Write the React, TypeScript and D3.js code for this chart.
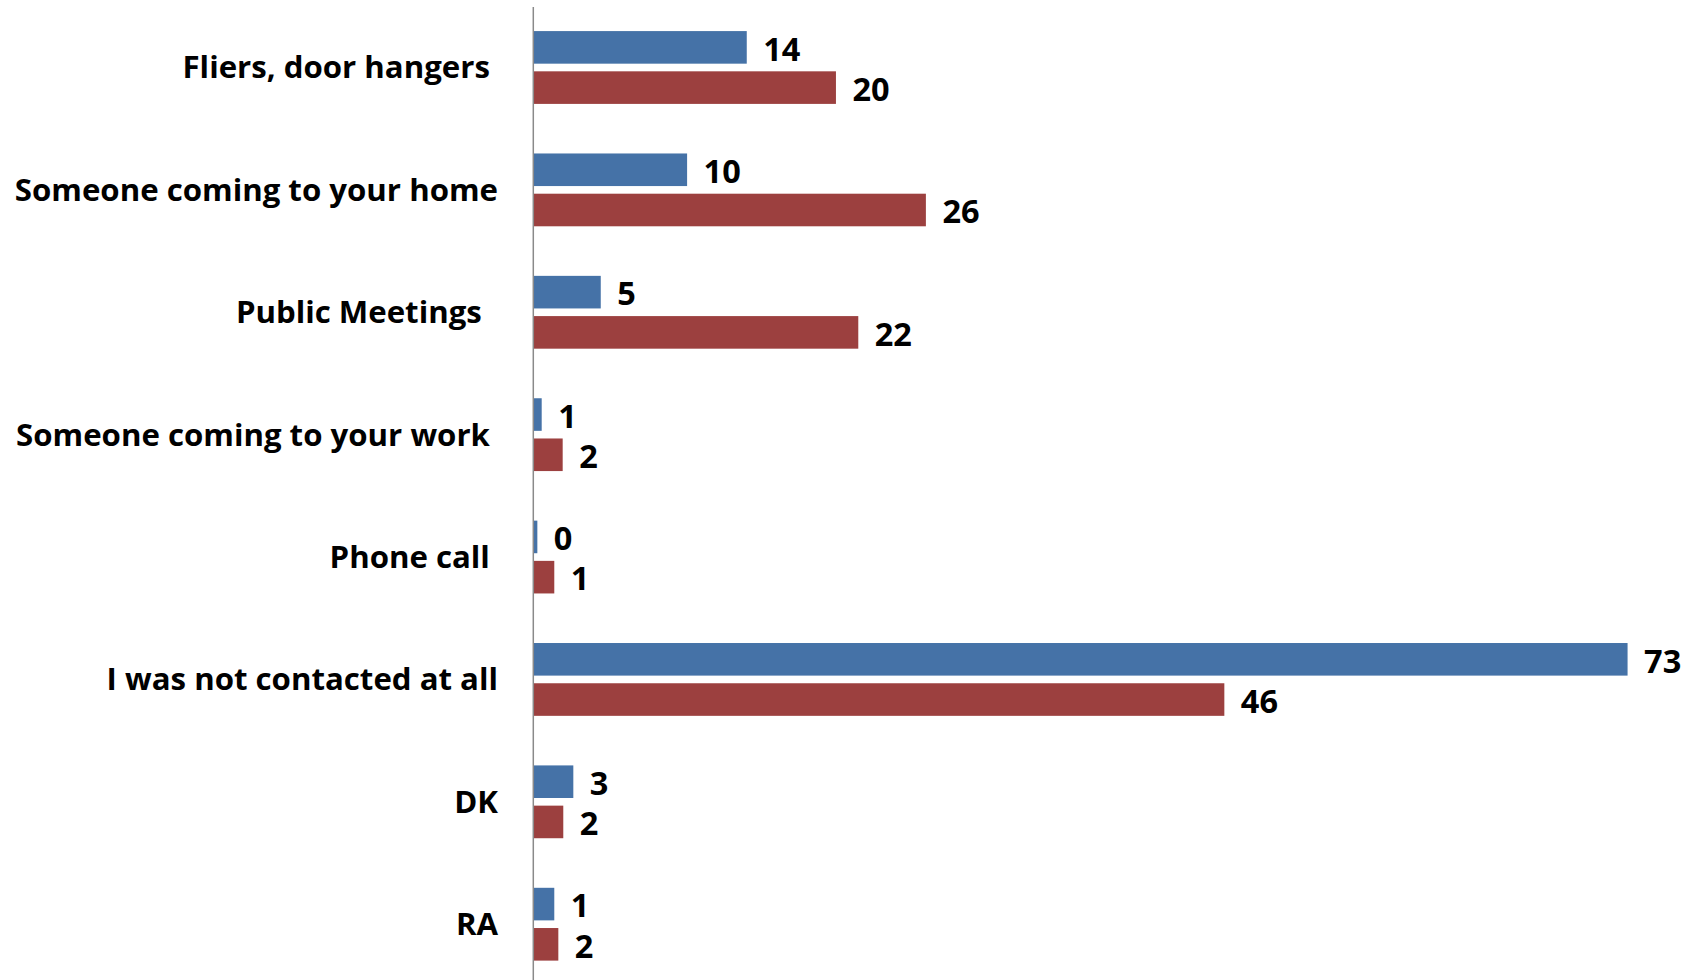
import React from "react";
import * as d3 from "d3";

const categories = [
  "Fliers, door hangers ",
  "Someone coming to your home",
  "Public Meetings  ",
  "Someone coming to your work ",
  "Phone call ",
  "I was not contacted at all",
  "DK",
  "RA",
];

const seriesNames = ["Series A", "Series B"];
const seriesA = [14.24, 10.26, 4.5, 0.56, 0.27, 73.0, 2.67, 1.4];
const seriesB = [20.19, 26.19, 21.68, 1.96, 1.4, 46.1, 2.0, 1.67];
const seriesColors = ["#4572A7", "#9C403F"];

const W = 1694;
const H = 980;

export default function App() {
  const x = d3.scaleLinear().domain([0, 80]).range([533.3, 533.3 + 80 * 14.99]);
  const y0 = d3
    .scaleBand<string>()
    .domain(categories)
    .range([6.3, 985.4])
    .paddingInner(0.405)
    .paddingOuter(0.2025);
  const y1 = d3
    .scaleBand<string>()
    .domain(seriesNames)
    .range([0, y0.bandwidth()])
    .paddingInner(0.19);
  const data = [seriesA, seriesB];
  const font = "'Open Sans', sans-serif";

  return (
    <svg
      width={W}
      height={H}
      style={{ position: "absolute", left: 0, top: 0, background: "#fff" }}
    >
      {categories.map((c, i) => {
        const cy = (y0(c) as number) + y0.bandwidth() / 2;
        return (
          <g key={c}>
            <text
              x={498}
              y={cy + 11}
              textAnchor="end"
              fontFamily={font}
              fontWeight={700}
              fontSize={31.2}
              fill="#000"
              style={{ whiteSpace: "pre" }}
            >
              {c}
            </text>
            {data.map((s, k) => {
              const yy = (y0(c) as number) + (y1(seriesNames[k]) as number);
              const v = s[i];
              return (
                <g key={k}>
                  <rect
                    x={x(0)}
                    y={yy}
                    width={x(v) - x(0)}
                    height={y1.bandwidth()}
                    fill={seriesColors[k]}
                  />
                  <text
                    x={x(v) + 16.5}
                    y={yy + y1.bandwidth() / 2 + 13.2}
                    fontFamily={font}
                    fontWeight={700}
                    fontSize={32.5}
                    fill="#000"
                  >
                    {Math.round(v)}
                  </text>
                </g>
              );
            })}
          </g>
        );
      })}
      <line x1={x(0)} x2={x(0)} y1={7} y2={H} stroke="#8a8a8a" strokeWidth={1.5} />
    </svg>
  );
}
